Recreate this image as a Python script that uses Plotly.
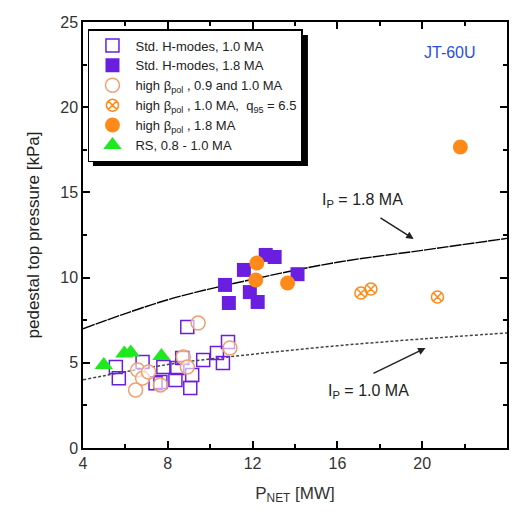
import plotly.graph_objects as go

# ---- data ----
std_10_x = [5.55, 5.69, 6.81, 7.42, 7.65, 7.79, 8.36, 8.45, 8.68, 8.92, 9.06, 9.15, 9.67, 10.32, 10.6, 10.84]
std_10_y = [4.75, 4.10, 5.05, 3.80, 3.87, 4.75, 3.99, 4.69, 5.28, 7.10, 3.52, 4.28, 5.16, 5.57, 4.99, 6.22]

std_18_x = [10.70, 10.88, 11.59, 11.87, 12.24, 12.62, 13.04, 14.12]
std_18_y = [9.57, 8.51, 10.45, 9.15, 8.57, 11.33, 11.21, 10.20]

hb_open_x = [6.48, 6.58, 6.81, 7.09, 7.65, 8.73, 8.92, 9.43, 10.93]
hb_open_y = [3.40, 4.58, 4.10, 4.46, 3.70, 5.34, 4.75, 7.33, 5.87]

hb_q95_x = [17.11, 17.58, 20.72]
hb_q95_y = [9.10, 9.33, 8.86]

hb_18_x = [12.15, 12.20, 13.65, 21.80]
hb_18_y = [9.86, 10.86, 9.68, 17.66]

rs_x = [4.98, 5.95, 6.25, 7.70]
rs_y = [4.87, 5.55, 5.60, 5.40]

fit18_x = [4, 8, 12, 16, 20, 24]
fit18_y = [7.0, 8.7, 9.9, 10.9, 11.6, 12.3]
fit10_x = [4, 8, 12, 16, 20, 24]
fit10_y = [4.0, 4.9, 5.5, 6.0, 6.4, 6.75]

PURPLE = "#6a1fe0"
ORANGE = "#ff8a1a"
ORANGE_L = "#f0a070"
GREEN = "#1ee81e"
FONT = "Arial, Liberation Sans, sans-serif"

fig = go.Figure()

fig.add_trace(go.Scatter(x=fit18_x, y=fit18_y, mode="lines", line=dict(color="black", width=1.4, dash="12px,1px", shape="spline"), showlegend=False, hoverinfo="skip"))
fig.add_trace(go.Scatter(x=fit10_x, y=fit10_y, mode="lines", line=dict(color="#444", width=1.5, dash="3px,2px", shape="spline"), showlegend=False, hoverinfo="skip"))

fig.add_trace(go.Scatter(x=std_10_x, y=std_10_y, mode="markers", name="Std. H-modes, 1.0 MA",
                         marker=dict(symbol="square-open", size=13, color=PURPLE, line=dict(width=1.5, color=PURPLE))))
fig.add_trace(go.Scatter(x=std_18_x, y=std_18_y, mode="markers", name="Std. H-modes, 1.8 MA",
                         marker=dict(symbol="square", size=14, color=PURPLE)))
fig.add_trace(go.Scatter(x=hb_open_x, y=hb_open_y, mode="markers", name="high β<sub>pol</sub> , 0.9 and 1.0 MA",
                         marker=dict(symbol="circle", size=14, color="rgba(255,255,255,0.6)", line=dict(width=1.5, color=ORANGE_L))))
fig.add_trace(go.Scatter(x=hb_q95_x, y=hb_q95_y, mode="markers", name="high β<sub>pol</sub> , 1.0 MA,  q<sub>95</sub> = 6.5",
                         marker=dict(symbol="circle-x-open", size=12, color=ORANGE, line=dict(width=1.5, color=ORANGE))))
fig.add_trace(go.Scatter(x=hb_18_x, y=hb_18_y, mode="markers", name="high β<sub>pol</sub> , 1.8 MA",
                         marker=dict(symbol="circle", size=15, color=ORANGE)))
fig.add_trace(go.Scatter(x=rs_x, y=rs_y, mode="markers", name="RS, 0.8 - 1.0 MA",
                         marker=dict(symbol="triangle-up", size=16, color=GREEN)))

axis_common = dict(showline=True, linecolor="black", linewidth=1.5, mirror="ticks",
                   ticks="inside", ticklen=7, tickwidth=1.5, tickcolor="black",
                   showgrid=False, zeroline=False,
                   tickfont=dict(family=FONT, size=16, color="#333"))

fig.update_xaxes(range=[4, 24], tickvals=[4, 8, 12, 16, 20, 24],
                 minor=dict(dtick=2, ticks="inside", ticklen=4, tickwidth=1.5, tickcolor="black"),
                 title=dict(text="P<sub>NET</sub> [MW]", font=dict(family=FONT, size=17, color="#333"), standoff=16),
                 **axis_common)
fig.update_yaxes(range=[0, 25], tickvals=[0, 5, 10, 15, 20, 25],
                 minor=dict(dtick=2.5, ticks="inside", ticklen=4, tickwidth=1.5, tickcolor="black"),
                 title=dict(text="pedestal top pressure [kPa]", font=dict(family=FONT, size=17, color="#222"), standoff=16),
                 **axis_common)

# annotations
fig.add_annotation(x=21.3, y=23.2, text="JT-60U", showarrow=False, font=dict(family=FONT, size=16, color="#2a4fe6"))
fig.add_annotation(x=15.2, y=14.5, text="I<sub>P</sub> = 1.8 MA", showarrow=False, xanchor="left",
                   font=dict(family=FONT, size=16, color="#222"))
fig.add_annotation(x=19.6, y=12.27, ax=17.96, ay=13.56, axref="x", ayref="y", text="", showarrow=True,
                   arrowhead=2, arrowsize=1, arrowwidth=1.5, arrowcolor="#222")
fig.add_annotation(x=15.45, y=3.3, text="I<sub>P</sub> = 1.0 MA", showarrow=False, xanchor="left",
                   font=dict(family=FONT, size=16, color="#222"))
fig.add_annotation(x=20.16, y=5.87, ax=17.63, ay=4.34, axref="x", ayref="y", text="", showarrow=True,
                   arrowhead=2, arrowsize=1, arrowwidth=1.5, arrowcolor="#222")

# legend shadow
fig.add_shape(type="rect", xref="paper", yref="paper", x0=(93 - 83) / 426, x1=(309 - 83) / 426,
              y0=(448 - 166) / 426, y1=(448 - 35) / 426, fillcolor="black", line=dict(width=0), layer="above")

fig.update_layout(
    width=514, height=512,
    margin=dict(l=83, r=5, t=22, b=64),
    paper_bgcolor="white", plot_bgcolor="white",
    font=dict(family=FONT),
    legend=dict(x=(88 - 83) / 426, y=(448 - 29) / 426, xanchor="left", yanchor="top",
                bgcolor="white", bordercolor="black", borderwidth=1.5,
                font=dict(family=FONT, size=13, color="#222"), itemwidth=36),
)

fig.write_html("out.html")
